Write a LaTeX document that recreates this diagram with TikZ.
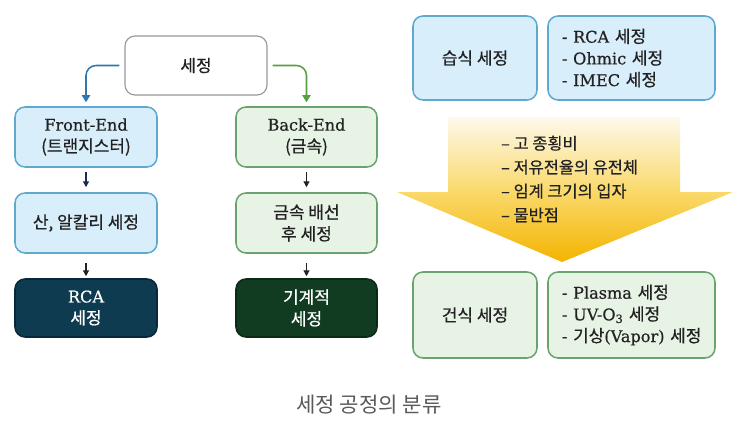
\documentclass[tikz,border=0pt]{standalone}
\usepackage{fontspec}
\setmainfont{Noto Sans CJK KR}[FakeBold=0.6]
\newfontfamily\latf{DejaVu Serif}[FakeBold=0.5, Scale=0.95]
\newfontfamily\plainkr{Noto Sans CJK KR}
\newcommand{\lat}[1]{{\latf #1}}
\usetikzlibrary{arrows.meta}
\definecolor{bluefill}{HTML}{D8EEFA}
\definecolor{bluebd}{HTML}{5FA9CF}
\definecolor{greenfill}{HTML}{E7F3E4}
\definecolor{greenbd}{HTML}{6AA36D}
\definecolor{darkteal}{HTML}{0E3B50}
\definecolor{darktealbd}{HTML}{08283A}
\definecolor{darkgrn}{HTML}{123C22}
\definecolor{darkgrnbd}{HTML}{0B2A15}
\definecolor{arrblue}{HTML}{2F77AD}
\definecolor{arrgreen}{HTML}{57A040}
\definecolor{arrnavy}{HTML}{1B2B52}
\definecolor{txt}{HTML}{222222}
\definecolor{arrtop}{HTML}{FEF9EC}
\definecolor{arrbot}{HTML}{F3B400}
\tikzset{
  box/.style={draw, rounded corners=3mm, line width=1.3pt, minimum width=4.26cm,
    minimum height=1.8cm, align=center, inner sep=2pt, text=txt},
  bluebox/.style={box, draw=bluebd, fill=bluefill},
  greenbox/.style={box, draw=greenbd, fill=greenfill},
  tealbox/.style={box, draw=darktealbd, fill=darkteal, text=white, minimum height=1.74cm},
  grnbox/.style={box, draw=darkgrnbd, fill=darkgrn, text=white, minimum height=1.74cm},
  listbox/.style={align=left, inner xsep=0.42cm, text width=4.17cm, minimum width=5.01cm},
  bigarr/.style={-{Triangle[length=6pt,width=7pt]}, line width=1.3pt, rounded corners=3mm},
  smallarr/.style={-{Triangle[length=5pt,width=5pt]}, line width=1pt},
}
\begin{document}
\begin{tikzpicture}[x=0.03cm, y=-0.03cm, font=\fontsize{14.5}{18.5}\selectfont]
\fill[white] (0,0) rectangle (743,440);
\useasboundingbox (0,0) rectangle (743,440);

% left tree
\node[box, draw=gray!80, fill=white, line width=1pt, minimum width=4.26cm, minimum height=1.77cm] (top) at (196,65.5) {세정};
\node[bluebox] (fe) at (86,137) {\lat{Front-End}\\(트랜지스터)};
\node[greenbox, minimum width=4.23cm] (be) at (306.5,137) {\lat{Back-End}\\(금속)};
\node[bluebox] (acid) at (86,223) {산, 알칼리 세정};
\node[greenbox, minimum width=4.23cm] (metal) at (306.5,223) {금속 배선\\후 세정};
\node[tealbox] (rca) at (86,308) {\lat{RCA}\\세정};
\node[grnbox, minimum width=4.23cm] (mech) at (306.5,308) {기계적\\세정};

\draw[bigarr, draw=arrblue, shorten <=0.15cm, shorten >=0.12cm] (top.west) -| (fe.north);
\draw[bigarr, draw=arrgreen, shorten <=0.15cm, shorten >=0.12cm] (top.east) -| (be.north);
\draw[smallarr, draw=arrnavy, shorten <=0.12cm, shorten >=0.15cm] (fe.south) -- (acid.north);
\draw[smallarr, draw=txt, shorten <=0.12cm, shorten >=0.15cm] (be.south) -- (metal.north);
\draw[smallarr, draw=txt, shorten <=0.27cm, shorten >=0.06cm] (acid.south) -- (rca.north);
\draw[smallarr, draw=txt, shorten <=0.27cm, shorten >=0.06cm] (metal.south) -- (mech.north);

% right side
\shade[top color=arrtop, bottom color=arrbot, middle color={rgb,255:red,250;green,218;blue,110}]
  (448,117) -- (680,117) -- (680,192) -- (733,192) -- (562,262) -- (397,192) -- (448,192) -- cycle;

\node[bluebox, minimum width=3.72cm, minimum height=2.52cm] (wet) at (475,58) {습식 세정};
\node[bluebox, listbox, minimum height=2.52cm] (wetlist) at (631.5,58)
  {\mbox{\lat{- RCA} 세정}\\\mbox{\lat{- Ohmic} 세정}\\\mbox{\lat{- IMEC} 세정}};

\node[anchor=west, align=left, text=txt, font=\fontsize{14}{20.4}\selectfont] (crit) at (497,179)
  {– 고 종횡비\\– 저유전율의 유전체\\– 임계 크기의 입자\\– 물반점};

\node[greenbox, minimum width=3.72cm, minimum height=2.58cm] (dry) at (475,315) {건식 세정};
\node[greenbox, listbox, minimum height=2.58cm] (drylist) at (631.5,315)
  {\mbox{\lat{- Plasma} 세정}\\\mbox{\lat{- UV-O\textsubscript{3}} 세정}\\\mbox{\lat{-} 기상\lat{(Vapor)} 세정}};

\node[text={rgb,255:red,90;green,90;blue,90}, font=\plainkr\fontsize{18}{20}\selectfont] (title) at (369,405) {세정 공정의 분류};
\end{tikzpicture}
\end{document}
